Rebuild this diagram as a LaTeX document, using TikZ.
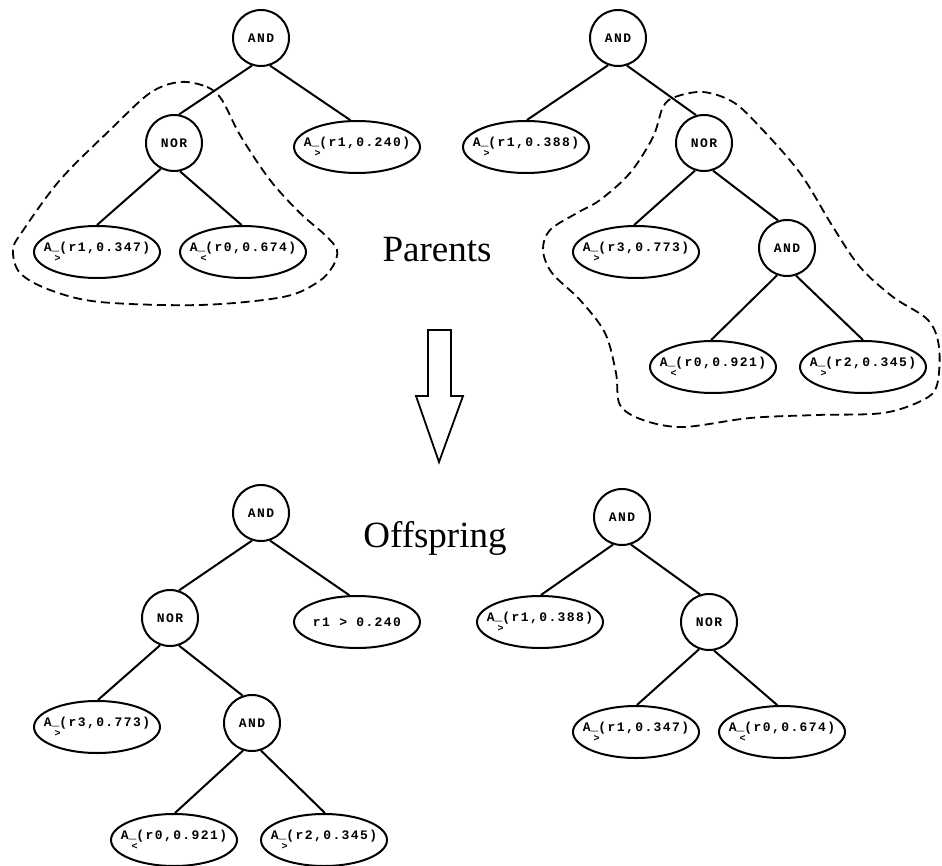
\documentclass[tikz,border=0pt]{standalone}
\usepackage{fontspec}
\setmainfont{Liberation Serif}
\newfontfamily\nodefont{Liberation Mono}[LetterSpace=11]
\newfontfamily\subfont{Liberation Mono}
\usetikzlibrary{shapes.geometric}
\newcommand{\Acond}[2]{\makebox[0pt][c]{A\rlap{\raisebox{-10pt}{\kern3pt\subfont\fontsize{10}{10}\selectfont #1}}\raisebox{1.5pt}{\_}#2}}
\tikzset{
  gate/.style={circle, draw, line width=2pt, minimum size=56pt, inner sep=0pt, font=\nodefont\bfseries\fontsize{13}{13}\selectfont},
  leaf/.style={ellipse, draw, line width=2pt, minimum width=126pt, minimum height=52pt, inner sep=0pt, font=\nodefont\bfseries\fontsize{13}{13}\selectfont},
  edge/.style={line width=2pt},
  blob/.style={line width=1.8pt, dash pattern=on 9pt off 5pt},
  title/.style={anchor=base, inner sep=0pt, font=\fontsize{37}{40}\selectfont}
}
\begin{document}
\begin{tikzpicture}[x=1pt,y=-1pt]
\useasboundingbox (0,0) rectangle (942,866);
% ---------- Tree 1 (parent, left) ----------
\node[gate] (a1) at (261,38) {AND};
\node[gate] (n1) at (174,143) {NOR};
\node[leaf] (l1a) at (357,147) {\Acond{>}{(r1,0.240)}};
\node[leaf] (l1b) at (97,252) {\Acond{>}{(r1,0.347)}};
\node[leaf] (l1c) at (243,252) {\Acond{<}{(r0,0.674)}};
\draw[edge] (a1.-108) -- (n1.80);
\draw[edge] (a1.-72) -- (l1a.104);
\draw[edge] (n1.-117) -- (l1b.90);
\draw[edge] (n1.-78) -- (l1c.93);
\draw[blob] plot[smooth cycle, tension=0.55] coordinates {(180,82) (207,87) (222,100) (240,135) (270,180) (300,213) (325,235) (337,250) (333,266) (318,282) (283,297) (200,305) (100,302) (50,290) (20,273) (13,250) (22,232) (60,180) (110,130) (150,93)};
% ---------- Tree 2 (parent, right) ----------
\node[gate] (a2) at (618,38) {AND};
\node[leaf] (l2a) at (526,147) {\Acond{>}{(r1,0.388)}};
\node[gate] (n2) at (704,143) {NOR};
\node[leaf] (l2b) at (636,252) {\Acond{>}{(r3,0.773)}};
\node[gate] (a2b) at (787,248) {AND};
\node[leaf] (l2c) at (713,367) {\Acond{<}{(r0,0.921)}};
\node[leaf] (l2d) at (863,367) {\Acond{>}{(r2,0.345)}};
\draw[edge] (a2.-110) -- (l2a.88);
\draw[edge] (a2.-72) -- (n2.106);
\draw[edge] (n2.-108) -- (l2b.94);
\draw[edge] (n2.-72) -- (a2b.108);
\draw[edge] (a2b.-110) -- (l2c.94);
\draw[edge] (a2b.-72) -- (l2d.90);
\draw[blob] plot[smooth cycle, tension=0.55] coordinates {(663,107) (675,97) (703,92) (733,102) (760,127) (800,173) (833,227) (860,267) (893,297) (928,320) (939,347) (937,385) (923,400) (883,413) (817,415) (750,418) (683,427) (643,420) (620,405) (616,373) (605,333) (580,300) (552,273) (543,250) (550,230) (577,213) (600,200) (630,173) (653,137)};
% ---------- Titles and arrow ----------
\node[title] (parents) at (437,262) {Parents};
\node[title] (offspring) at (435,547) {Offspring};
\draw[line width=1.8pt, line join=miter] (428,330) -- (451,330) -- (451,396) -- (463,396) -- (439,462) -- (416,396) -- (428,396) -- cycle;
% ---------- Tree 3 (offspring, left) ----------
\node[gate] (a3) at (261,513) {AND};
\node[gate] (n3) at (170,618) {NOR};
\node[leaf] (l3a) at (357,622) {\makebox[0pt][c]{r1 > 0.240}};
\node[leaf] (l3b) at (97,727) {\Acond{>}{(r3,0.773)}};
\node[gate] (a3b) at (252,723) {AND};
\node[leaf] (l3c) at (174,840) {\Acond{<}{(r0,0.921)}};
\node[leaf] (l3d) at (324,840) {\Acond{>}{(r2,0.345)}};
\draw[edge] (a3.-108) -- (n3.72);
\draw[edge] (a3.-72) -- (l3a.106);
\draw[edge] (n3.-110) -- (l3b.88);
\draw[edge] (n3.-72) -- (a3b.109);
\draw[edge] (a3b.-108) -- (l3c.88);
\draw[edge] (a3b.-72) -- (l3d.88);
% ---------- Tree 4 (offspring, right) ----------
\node[gate] (a4) at (622,517) {AND};
\node[leaf] (l4a) at (540,622) {\Acond{>}{(r1,0.388)}};
\node[gate] (n4) at (709,622) {NOR};
\node[leaf] (l4b) at (636,732) {\Acond{>}{(r1,0.347)}};
\node[leaf] (l4c) at (782,732) {\Acond{<}{(r0,0.674)}};
\draw[edge] (a4.-108) -- (l4a.88);
\draw[edge] (a4.-72) -- (n4.108);
\draw[edge] (n4.-110) -- (l4b.88);
\draw[edge] (n4.-80) -- (l4c.100);
\end{tikzpicture}
\end{document}
